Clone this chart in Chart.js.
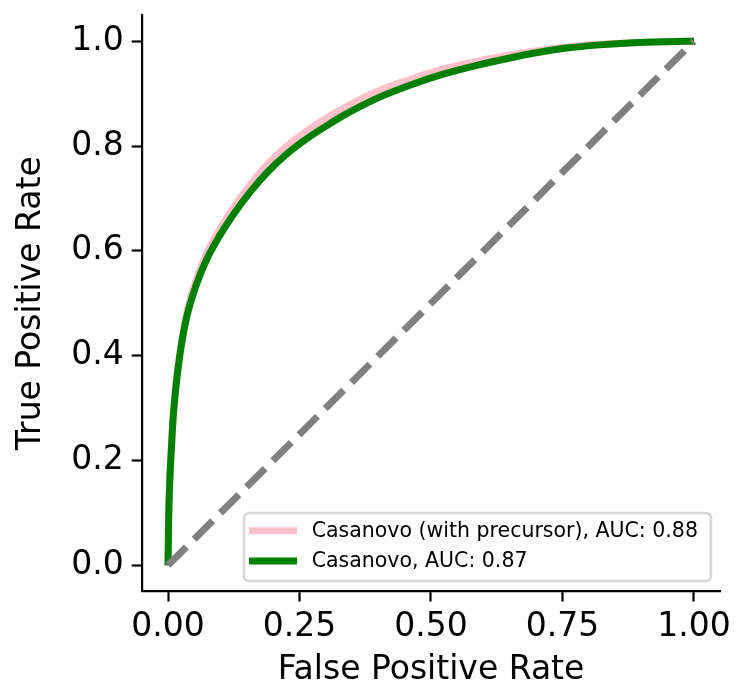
<!DOCTYPE html>
<html>
<head>
<meta charset="utf-8">
<script src="https://cdn.jsdelivr.net/npm/chart.js@4/dist/chart.umd.min.js"></script>
<style>
html,body{margin:0;padding:0;background:#fff;}
#wrap{width:736px;height:693px;position:relative;}
</style>
</head>
<body>
<div id="wrap"><canvas id="c" width="736" height="693"></canvas></div>
<script>
// ---- data ----
const fpr = [0, 0.0013, 0.0032, 0.0063, 0.010, 0.0158, 0.024, 0.0356, 0.0527, 0.0736, 0.0989, 0.124, 0.156, 0.188, 0.226, 0.264, 0.302, 0.333, 0.397, 0.460, 0.523, 0.587, 0.650, 0.694, 0.758, 0.821, 0.885, 0.948, 1.0];
const tprCasanovo = [0, 0.093, 0.156, 0.220, 0.284, 0.347, 0.411, 0.474, 0.532, 0.584, 0.630, 0.669, 0.712, 0.749, 0.785, 0.814, 0.839, 0.858, 0.891, 0.916, 0.937, 0.954, 0.968, 0.977, 0.987, 0.993, 0.997, 0.999, 1.0];
const tprPrecursor = [0, 0.094, 0.158, 0.223, 0.288, 0.352, 0.417, 0.482, 0.542, 0.595, 0.642, 0.682, 0.726, 0.764, 0.800, 0.829, 0.854, 0.872, 0.904, 0.927, 0.947, 0.962, 0.974, 0.981, 0.989, 0.994, 0.997, 0.999, 1.0];
const chanceX = [0, 1];
const chanceY = [0, 1];
const seriesLabels = ["Casanovo (with precursor), AUC: 0.88", "Casanovo, AUC: 0.87"];
const xTicks = [0, 0.25, 0.5, 0.75, 1.0];
const yTicks = [0, 0.2, 0.4, 0.6, 0.8, 1.0];
const xTitle = "False Positive Rate";
const yTitle = "True Positive Rate";

const pts = (xs, ys) => xs.map((x, i) => ({x: x, y: ys[i]}));
const FONT = "'DejaVu Sans', sans-serif";

const legendPlugin = {
  id: 'mplLegend',
  afterDatasetsDraw(chart) {
    const ctx = chart.ctx;
    const a = chart.chartArea;
    const right = a.right - 9.3, bottom = a.bottom - 10.5;
    const w = 467, h = 68;
    const left = right - w, top = bottom - h;
    ctx.save();
    ctx.beginPath();
    if (ctx.roundRect) ctx.roundRect(left, top, w, h, 5); else ctx.rect(left, top, w, h);
    ctx.fillStyle = 'rgba(255,255,255,0.8)';
    ctx.fill();
    ctx.lineWidth = 2.6;
    ctx.strokeStyle = 'rgba(204,204,204,0.8)';
    ctx.stroke();
    const rows = [0, 1].map(i => chart.data.datasets[i]);
    rows.forEach((ds, i) => {
      const cy = top + 17.7 + i * 30.3;
      ctx.beginPath();
      ctx.moveTo(left + 5, cy);
      ctx.lineTo(left + 53, cy);
      ctx.lineWidth = 7;
      ctx.lineCap = 'butt';
      ctx.strokeStyle = ds.borderColor;
      ctx.stroke();
      ctx.fillStyle = '#000';
      ctx.font = "20.5px " + FONT;
      ctx.textBaseline = 'middle';
      ctx.textAlign = 'left';
      ctx.fillText(ds.label, left + 67.7, cy + 1);
    });
    ctx.restore();
  }
};

new Chart(document.getElementById('c'), {
  type: 'scatter',
  data: {
    datasets: [
      {label: seriesLabels[0], data: pts(fpr, tprPrecursor), showLine: true, borderColor: '#FFC0CB', backgroundColor: '#FFC0CB', borderWidth: 7, pointRadius: 0, cubicInterpolationMode: 'monotone', order: 2},
      {label: seriesLabels[1], data: pts(fpr, tprCasanovo), showLine: true, borderColor: '#008000', backgroundColor: '#008000', borderWidth: 7, pointRadius: 0, cubicInterpolationMode: 'monotone', order: 1},
      {label: 'chance', data: pts(chanceX, chanceY), showLine: true, borderColor: '#808080', borderWidth: 7, borderDash: [26, 11], borderCapStyle: 'butt', pointRadius: 0, order: 0}
    ]
  },
  options: {
    responsive: false,
    animation: false,
    events: [],
    layout: {padding: {left: 0, top: 15, right: 15.7, bottom: 0}},
    plugins: {legend: {display: false}, tooltip: {enabled: false}},
    scales: {
      x: {
        type: 'linear', min: -0.05, max: 1.05,
        afterBuildTicks: s => { s.ticks = xTicks.map(v => ({value: v})); },
        afterFit: s => { s.height = 101.5; s.paddingLeft = 0; s.paddingRight = 0; },
        ticks: {color: '#000', font: {family: FONT, size: 33}, padding: 6, maxRotation: 0, callback: v => Number(v).toFixed(2)},
        grid: {drawOnChartArea: false, tickLength: 10, tickWidth: 2.2, tickColor: '#000'},
        border: {display: true, color: '#000', width: 2.2},
        title: {display: true, text: xTitle, color: '#000', font: {family: FONT, size: 33}, padding: {top: 0, bottom: 3}}
      },
      y: {
        type: 'linear', min: -0.05, max: 1.05,
        afterBuildTicks: s => { s.ticks = yTicks.map(v => ({value: v})); },
        afterFit: s => { s.width = 141.7; s.paddingTop = 0; s.paddingBottom = 0; },
        ticks: {color: '#000', font: {family: FONT, size: 33}, padding: 8, callback: v => Number(v).toFixed(1)},
        grid: {drawOnChartArea: false, tickLength: 10, tickWidth: 2.2, tickColor: '#000'},
        border: {display: true, color: '#000', width: 2.2},
        title: {display: true, text: yTitle, color: '#000', font: {family: FONT, size: 33}, padding: {top: 12, bottom: 0}}
      }
    }
  },
  plugins: [legendPlugin]
});
</script>
</body>
</html>
